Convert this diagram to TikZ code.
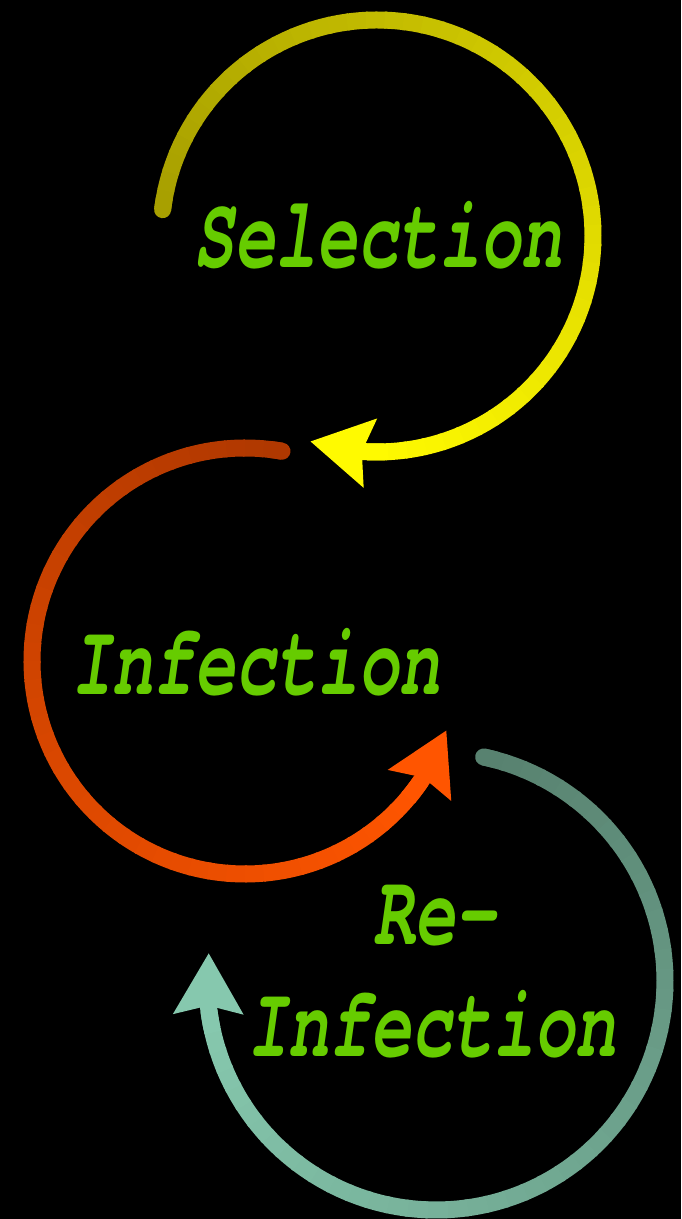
\documentclass[tikz,border=0pt]{standalone}
\usepackage{fontspec}
\newfontfamily\schrift{texgyrecursor-bolditalic.otf}
\usepackage{tikz}
\usetikzlibrary{arrows.meta,bending}
\definecolor{selA}{RGB}{168,160,0}
\definecolor{selB}{RGB}{255,250,0}
\definecolor{infA}{RGB}{176,56,0}
\definecolor{infB}{RGB}{255,85,0}
\definecolor{reA}{RGB}{88,130,112}
\definecolor{reB}{RGB}{134,200,174}
\definecolor{wortgruen}{RGB}{102,204,0}

\begin{document}
\begin{tikzpicture}[x=0.02cm, y=0.02cm,
				ring/.style={line width=0.34cm},
				spitze/.style={-{Stealth[length=1.2cm, width=1.35cm, inset=0.15cm]}},
				wort/.style={text=wortgruen, font=\schrift\fontsize{58}{60}\selectfont, xscale=0.67, inner sep=0pt, anchor=base}]
				% Hintergrund
				\fill[black] (0,0) rectangle (681,1219);
				\useasboundingbox (0,0) rectangle (681,1219);
				% Mittelpunkte der Kreise
				\coordinate (cSel) at (377,983);
				\coordinate (cInf) at (245,558);
				\coordinate (cRe) at (436,238);
				% Kreis Selection (im Uhrzeigersinn)
				\draw[ring, selA, line cap=round] (cSel) ++(173:216) arc[start angle=173, end angle=170, radius=216];
				\foreach \i in {0,...,52} {
					\pgfmathsetmacro\a{173-5*\i}
					\pgfmathtruncatemacro\p{100*\i/52}
					\draw[ring, selB!\p!selA] (cSel) ++(\a:216) arc[start angle=\a, end angle=\a-5.6, radius=216];
				}
				\draw[ring, selB, spitze] (cSel) ++(-88:216) arc[start angle=-88, end angle=-108, radius=216];
				% Kreis Infection (gegen den Uhrzeigersinn)
				\draw[ring, infA, line cap=round] (cInf) ++(80:213) arc[start angle=80, end angle=83, radius=213];
				\foreach \i in {0,...,48} {
					\pgfmathsetmacro\a{80+5*\i}
					\pgfmathtruncatemacro\p{100*\i/48}
					\draw[ring, infB!\p!infA] (cInf) ++(\a:213) arc[start angle=\a, end angle=\a+5.6, radius=213];
				}
				\draw[ring, infB, spitze] (cInf) ++(320:213) arc[start angle=320, end angle=341, radius=213];
				% Kreis Re-Infection (im Uhrzeigersinn)
				\draw[ring, reA, line cap=round] (cRe) ++(78:229) arc[start angle=78, end angle=75, radius=229];
				\foreach \i in {0,...,49} {
					\pgfmathsetmacro\a{78-5*\i}
					\pgfmathtruncatemacro\p{100*\i/49}
					\draw[ring, reB!\p!reA] (cRe) ++(\a:229) arc[start angle=\a, end angle=\a-5.6, radius=229];
				}
				\draw[ring, reB, spitze] (cRe) ++(-168:229) arc[start angle=-168, end angle=-187, radius=229];
				% Beschriftung
				\node[wort] (selLabel) at (378,951) {Selection};
				\node[wort] (infLabel) at (256,524) {Infection};
				\node[wort] (reLabel) at (435,274) {Re-};
				\node[wort] (reInfLabel) at (432,162) {Infection};
			\end{tikzpicture}
\end{document}
